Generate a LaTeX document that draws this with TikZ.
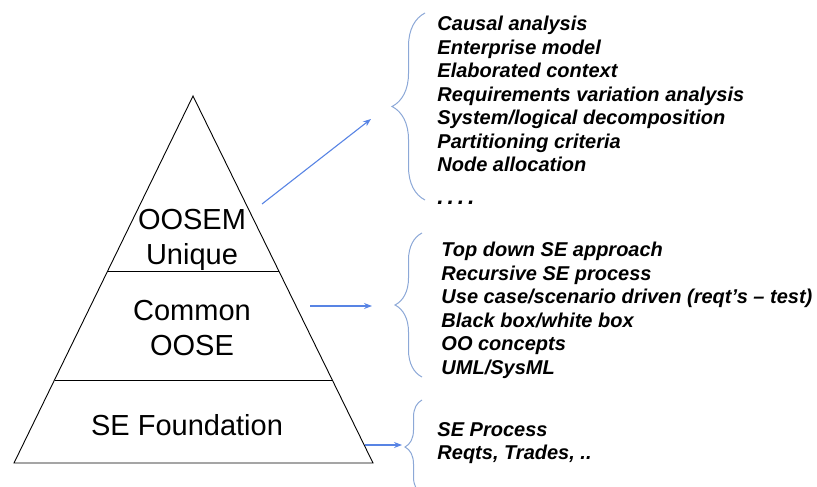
\documentclass[tikz,border=0pt]{standalone}
\usepackage{fontspec}
\setmainfont{Liberation Sans}
\usetikzlibrary{arrows.meta,decorations.pathreplacing}
\definecolor{arrowblue}{RGB}{88,132,228}
\definecolor{braceblue}{RGB}{140,168,215}

\begin{document}
\begin{tikzpicture}
  [x=1pt,y=-1pt,line width=0.9pt,
   tier/.style={font=\fontsize{29}{35}\selectfont,align=center,inner sep=0},
   itemlist/.style={font=\fontsize{20}{23.5}\selectfont\bfseries\itshape,align=left,anchor=north west,inner sep=0},
   curly/.style={braceblue,line width=1pt,decorate,decoration={brace,amplitude=#1}},
   pointer/.style={arrowblue,line width=1.1pt,-{Stealth[length=8pt,width=6pt]}}]
  \useasboundingbox (0,0) rectangle (817,487);

  % pyramid
  \coordinate (top) at (193,96);
  \coordinate (bl) at (14,463);
  \coordinate (br) at (373,463);
  \coordinate (l1) at (108,271);
  \coordinate (r1) at (279,271);
  \coordinate (l2) at (55,380);
  \coordinate (r2) at (332,380);
  \draw (top) -- (bl) -- (br) -- cycle;
  \draw (l1) -- (r1);
  \draw (l2) -- (r2);

  \node[tier] (oosem) at (192,240) {OOSEM\\Unique};
  \node[tier] (oose) at (192,328) {Common\\OOSE};
  \node[tier] (found) at (187,425) {SE Foundation};

  % lists
  \node[itemlist] (list1) at (437,16) {Causal analysis\\Enterprise model\\Elaborated context\\Requirements variation analysis\\System/logical decomposition\\Partitioning criteria\\Node allocation\\[9pt]{\fontsize{23}{23.5}\selectfont .\,.\,.\,.}};
  \node[itemlist] (list2) at (441,242) {Top down SE approach\\Recursive SE process\\Use case/scenario driven (reqt's -- test)\\Black box/white box\\OO concepts\\UML/SysML};
  \node[itemlist] (list3) at (437,422) {SE Process\\Reqts, Trades, ..};

  % braces
  \draw[curly=33] (425,200) -- (425,13);
  \draw[curly=27] (422,377) -- (422,233);
  \draw[curly=17] (422,494) -- (422,400);

  % arrows
  \coordinate (s1) at (262,204);
  \coordinate (e1) at (371,119);
  \coordinate (s2) at (310,306);
  \coordinate (e2) at (372,306);
  \coordinate (s3) at (365,445);
  \coordinate (e3) at (402,445);
  \draw[pointer] (s1) -- (e1);
  \draw[pointer] (s2) -- (e2);
  \draw[pointer] (s3) -- (e3);
\end{tikzpicture}
\end{document}
